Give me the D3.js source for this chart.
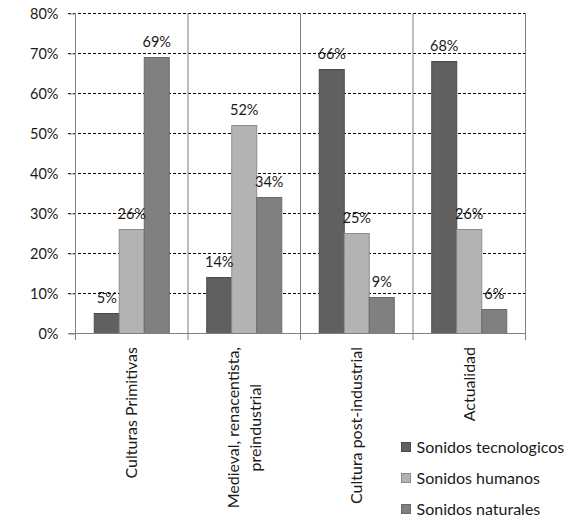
<!DOCTYPE html>
<html>
<head>
<meta charset="utf-8">
<script src="https://cdn.jsdelivr.net/npm/d3@7"></script>
<style>
  html, body { margin: 0; padding: 0; background: #fff; }
  svg { display: block; }
  text { font-family: Lato, "Open Sans", sans-serif; fill: #1a1a1a; }
</style>
</head>
<body>
<svg id="chart" width="580" height="518"></svg>
<script>
// Categories (each line of a label is its own entry)
const categories = [
  ["Culturas Primitivas"],
  ["Medieval, renacentista,", "preindustrial"],
  ["Cultura post-industrial"],
  ["Actualidad"]
];
const seriesNames = ["Sonidos tecnologicos", "Sonidos humanos", "Sonidos naturales"];
const tecnologicos = [0.05, 0.14, 0.66, 0.68];
const humanos      = [0.26, 0.52, 0.25, 0.26];
const naturales    = [0.69, 0.34, 0.09, 0.06];
const yTicks = [0, 0.1, 0.2, 0.3, 0.4, 0.5, 0.6, 0.7, 0.8];

const seriesValues = [tecnologicos, humanos, naturales];
const fills   = ["#606060", "#b3b3b3", "#808080"];
const strokes = ["#4a4a4a", "#8c8c8c", "#6a6a6a"];

const svg = d3.select("#chart");
const catKeys = categories.map(c => c.join(" "));

const y = d3.scaleLinear().domain([0, 0.8]).range([333.5, 13.5]);
const x0 = d3.scaleBand().domain(catKeys).range([75.5, 525.5]).paddingInner(0).paddingOuter(0);
const x1 = d3.scaleBand().domain(seriesNames).range([0, x0.bandwidth()]).paddingInner(0).paddingOuter(0.75);

const pct = d3.format(".0%");

// Dashed gridlines (including the small outward tick on the left)
svg.append("g")
  .selectAll("line")
  .data(yTicks.filter(t => t > 0))
  .join("line")
  .attr("x1", 68).attr("x2", 525.5)
  .attr("y1", d => y(d)).attr("y2", d => y(d))
  .attr("stroke", "#000")
  .attr("stroke-width", 1)
  .attr("stroke-dasharray", "3,2");

// Y axis labels and ticks
const yAxis = d3.axisLeft(y).tickValues(yTicks).tickFormat(pct).tickSize(7).tickPadding(10);
const gy = svg.append("g").attr("transform", "translate(75.5,0)").call(yAxis);
gy.select(".domain").remove();
gy.selectAll(".tick line").attr("stroke", "#808080");
gy.selectAll(".tick text").style("font-size", "14.5px").style("font-family", "Lato, sans-serif").attr("fill", "#1a1a1a");

// Category separators: left axis, band boundaries, right edge
const bounds = catKeys.map(k => x0(k)).concat([x0.range()[1]]);
svg.append("g")
  .selectAll("line")
  .data(bounds)
  .join("line")
  .attr("x1", d => d).attr("x2", d => d)
  .attr("y1", 13)
  .attr("y2", 340)
  .attr("stroke", "#808080")
  .attr("stroke-width", 1);

// Bars
const groups = svg.append("g")
  .selectAll("g")
  .data(catKeys)
  .join("g")
  .attr("transform", d => `translate(${x0(d)},0)`);

groups.selectAll("rect")
  .data((d, ci) => seriesNames.map((s, si) => ({ s, si, v: seriesValues[si][ci] })))
  .join("rect")
  .attr("x", d => x1(d.s))
  .attr("y", d => y(d.v))
  .attr("width", x1.bandwidth())
  .attr("height", d => y(0) - y(d.v))
  .attr("fill", d => fills[d.si])
  .attr("stroke", d => strokes[d.si])
  .attr("stroke-width", 1);

// Value labels
groups.selectAll("text.val")
  .data((d, ci) => seriesNames.map((s, si) => ({ s, si, v: seriesValues[si][ci] })))
  .join("text")
  .attr("class", "val")
  .attr("x", d => x1(d.s) + x1.bandwidth() / 2)
  .attr("y", d => y(d.v) - 11)
  .attr("text-anchor", "middle")
  .style("font-size", "14.5px")
  .text(d => pct(d.v));

// X axis baseline
svg.append("line")
  .attr("x1", 68).attr("x2", 525.5)
  .attr("y1", y(0)).attr("y2", y(0))
  .attr("stroke", "#808080");

// Rotated category labels
const labelTop = 347;
const lineGap = 22;
categories.forEach((lines, ci) => {
  const cx = x0(catKeys[ci]) + x0.bandwidth() / 2;
  const g = svg.append("g");
  const texts = lines.map(l => g.append("text").style("font-size", "16px").text(l));
  const maxLen = d3.max(texts, t => t.node().getComputedTextLength());
  const n = lines.length;
  texts.forEach((t, li) => {
    const lx = cx + (li - (n - 1) / 2) * lineGap + 5.5;
    const ly = labelTop + maxLen / 2;
    t.attr("text-anchor", "middle")
     .attr("transform", `translate(${lx},${ly}) rotate(-90)`);
  });
});

// Legend
const legend = svg.append("g")
  .selectAll("g")
  .data(seriesNames)
  .join("g")
  .attr("transform", (d, i) => `translate(401.5,${442 + i * 31})`);
legend.append("rect")
  .attr("width", 9).attr("height", 9)
  .attr("y", 0.5)
  .attr("fill", (d, i) => fills[i])
  .attr("stroke", (d, i) => strokes[i]);
legend.append("text")
  .attr("x", 15)
  .attr("y", 10.5)
  .style("font-size", "16px")
  .text(d => d);
</script>
</body>
</html>
